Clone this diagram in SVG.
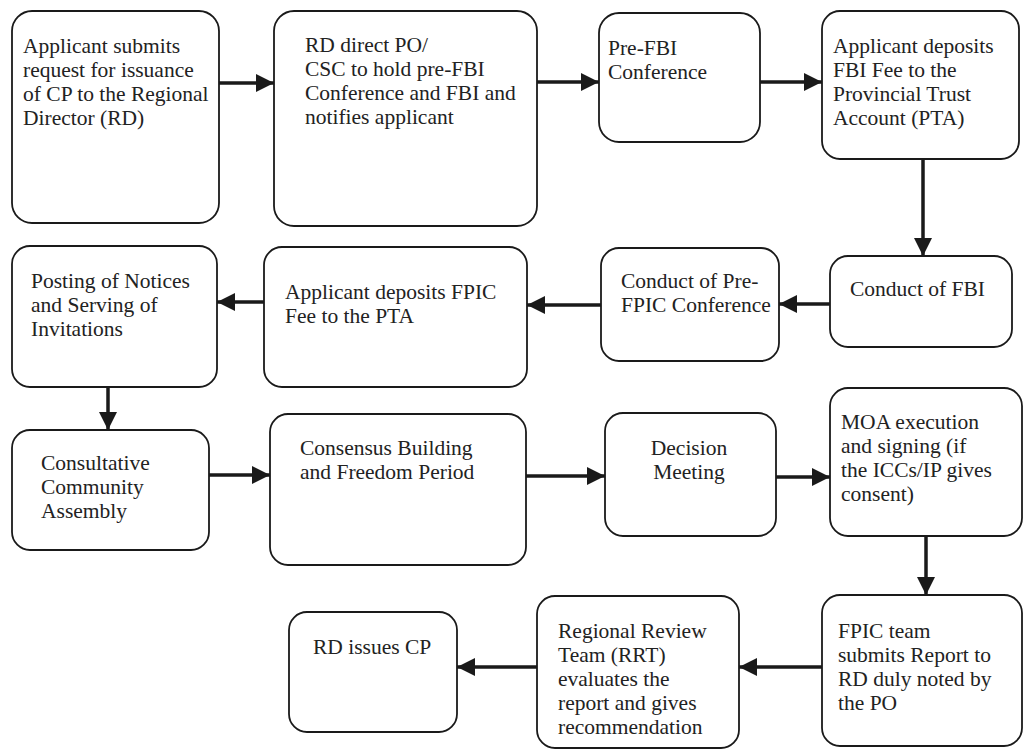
<svg xmlns="http://www.w3.org/2000/svg" width="1026" height="751" viewBox="0 0 1026 751">
<style>
.box{fill:#fff;stroke:#1a1a1a;stroke-width:1.8}
.t{font-family:"Liberation Serif","Times New Roman",serif;font-size:21.5px;fill:#222}
.c{text-anchor:middle}
.edge{stroke:#1a1a1a;stroke-width:3.5;fill:none;marker-end:url(#ah)}
</style>
<defs>
<marker id="ah" markerUnits="userSpaceOnUse" markerWidth="18" markerHeight="18" refX="18" refY="9" orient="auto">
<path d="M0,0 L18,9 L0,18 z" fill="#1a1a1a"/>
</marker>
</defs>
<rect width="1026" height="751" fill="#fff"/>
<g id="connectors">
<line class="edge" x1="219" y1="83" x2="274" y2="83"/>
<line class="edge" x1="537" y1="82" x2="599" y2="82"/>
<line class="edge" x1="760" y1="82" x2="822" y2="82"/>
<line class="edge" x1="923" y1="159" x2="923" y2="256"/>
<line class="edge" x1="830" y1="304" x2="779" y2="304"/>
<line class="edge" x1="601" y1="305" x2="527" y2="305"/>
<line class="edge" x1="264" y1="302" x2="217" y2="302"/>
<line class="edge" x1="108" y1="387" x2="108" y2="430"/>
<line class="edge" x1="209" y1="475" x2="270" y2="475"/>
<line class="edge" x1="526" y1="476" x2="605" y2="476"/>
<line class="edge" x1="776" y1="477" x2="830" y2="477"/>
<line class="edge" x1="926" y1="536" x2="926" y2="595"/>
<line class="edge" x1="822" y1="667" x2="739" y2="667"/>
<line class="edge" x1="537" y1="667" x2="457" y2="667"/>
</g>
<g id="n1">
<rect class="box" x="12" y="11" width="207" height="212" rx="20"/>
<text class="t" x="23" y="53">Applicant submits</text>
<text class="t" x="23" y="77">request for issuance</text>
<text class="t" x="23" y="101">of CP to the Regional</text>
<text class="t" x="23" y="125">Director (RD)</text>
</g>
<g id="n2">
<rect class="box" x="274" y="11" width="263" height="215" rx="20"/>
<text class="t" x="305" y="52">RD direct PO/</text>
<text class="t" x="305" y="76">CSC to hold pre-FBI</text>
<text class="t" x="305" y="100">Conference and FBI and</text>
<text class="t" x="305" y="124">notifies applicant</text>
</g>
<g id="n3">
<rect class="box" x="599" y="13" width="161" height="129" rx="20"/>
<text class="t" x="608" y="55">Pre-FBI</text>
<text class="t" x="608" y="79">Conference</text>
</g>
<g id="n4">
<rect class="box" x="822" y="11" width="197" height="148" rx="18"/>
<text class="t" x="833" y="53">Applicant deposits</text>
<text class="t" x="833" y="77">FBI Fee to the</text>
<text class="t" x="833" y="101">Provincial Trust</text>
<text class="t" x="833" y="125">Account (PTA)</text>
</g>
<g id="n5">
<rect class="box" x="830" y="256" width="182" height="91" rx="18"/>
<text class="t" x="850" y="296">Conduct of FBI</text>
</g>
<g id="n6">
<rect class="box" x="601" y="248" width="178" height="113" rx="18"/>
<text class="t" x="621" y="288">Conduct of Pre-</text>
<text class="t" x="621" y="312">FPIC Conference</text>
</g>
<g id="n7">
<rect class="box" x="264" y="247" width="263" height="140" rx="18"/>
<text class="t" x="285" y="299">Applicant deposits FPIC</text>
<text class="t" x="285" y="323">Fee to the PTA</text>
</g>
<g id="n8">
<rect class="box" x="12" y="246" width="205" height="141" rx="18"/>
<text class="t" x="31" y="288">Posting of Notices</text>
<text class="t" x="31" y="312">and Serving of</text>
<text class="t" x="31" y="336">Invitations</text>
</g>
<g id="n9">
<rect class="box" x="12" y="430" width="197" height="120" rx="18"/>
<text class="t" x="41" y="470">Consultative</text>
<text class="t" x="41" y="494">Community</text>
<text class="t" x="41" y="518">Assembly</text>
</g>
<g id="n10">
<rect class="box" x="270" y="414" width="256" height="151" rx="18"/>
<text class="t" x="300" y="455">Consensus Building</text>
<text class="t" x="300" y="479">and Freedom Period</text>
</g>
<g id="n11">
<rect class="box" x="605" y="413" width="171" height="123" rx="18"/>
<text class="t c" x="689" y="455">Decision</text>
<text class="t c" x="689" y="479">Meeting</text>
</g>
<g id="n12">
<rect class="box" x="830" y="388" width="192" height="148" rx="18"/>
<text class="t" x="841" y="429">MOA execution</text>
<text class="t" x="841" y="453">and signing (if</text>
<text class="t" x="841" y="477">the ICCs/IP gives</text>
<text class="t" x="841" y="501">consent)</text>
</g>
<g id="n13">
<rect class="box" x="822" y="595" width="200" height="151" rx="18"/>
<text class="t" x="838" y="638">FPIC team</text>
<text class="t" x="838" y="662">submits Report to</text>
<text class="t" x="838" y="686">RD duly noted by</text>
<text class="t" x="838" y="710">the PO</text>
</g>
<g id="n14">
<rect class="box" x="537" y="596" width="202" height="152" rx="18"/>
<text class="t" x="558" y="638">Regional Review</text>
<text class="t" x="558" y="662">Team (RRT)</text>
<text class="t" x="558" y="686">evaluates the</text>
<text class="t" x="558" y="710">report and gives</text>
<text class="t" x="558" y="734">recommendation</text>
</g>
<g id="n15">
<rect class="box" x="289" y="612" width="168" height="120" rx="18"/>
<text class="t" x="313" y="654">RD issues CP</text>
</g>
</svg>
